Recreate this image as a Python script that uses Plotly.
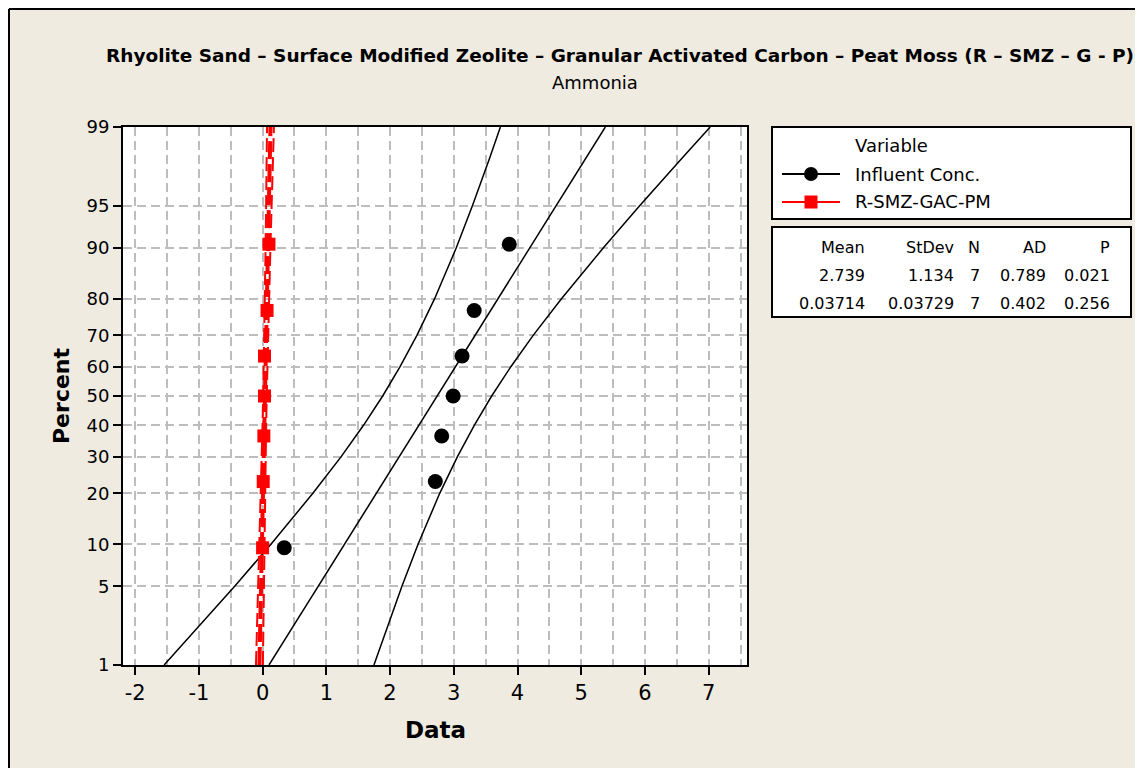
import plotly.graph_objects as go
from statistics import NormalDist

# probability plot (normal), n = 7 per variable
plot_pct = [9.46, 22.97, 36.49, 50.0, 63.51, 77.03, 90.54]
influent = [0.34, 2.71, 2.81, 2.99, 3.13, 3.32, 3.87]
rsmz = [0.00, 0.01, 0.02, 0.03, 0.03, 0.07, 0.10]

# fitted lines (ends at 1% and 99%)
fit_pct = [1, 99]
influent_fit = [0.101, 5.377]
rsmz_fit = [-0.0496, 0.1239]

# 95% confidence bands
ci_pct = [1, 2, 5, 10, 20, 30, 40, 50, 60, 70, 80, 90, 95, 98, 99]
influent_lo = [-1.545, -1.098, -0.438, 0.131, 0.789, 1.233, 1.583, 1.884,
               2.157, 2.421, 2.699, 3.039, 3.292, 3.560, 3.731]
influent_hi = [1.747, 1.918, 2.186, 2.439, 2.779, 3.057, 3.321, 3.594,
               3.895, 4.245, 4.689, 5.347, 5.916, 6.576, 7.023]
rsmz_lo = [-0.1037, -0.0890, -0.0673, -0.0486, -0.0270, -0.0124, -0.0008, 0.0090,
           0.0181, 0.0267, 0.0359, 0.0471, 0.0554, 0.0642, 0.0698]
rsmz_hi = [0.0045, 0.0100, 0.0189, 0.0272, 0.0384, 0.0476, 0.0562, 0.0652,
           0.0751, 0.0867, 0.1013, 0.1229, 0.1416, 0.1632, 0.1780]

pct_ticks = [1, 5, 10, 20, 30, 40, 50, 60, 70, 80, 90, 95, 99]
x_ticks = [-2, -1, 0, 1, 2, 3, 4, 5, 6, 7]

stats_cols = ["Mean", "StDev", "N", "AD", "P"]
stats_rows = [["2.739", "1.134", "7", "0.789", "0.021"],
              ["0.03714", "0.03729", "7", "0.402", "0.256"]]

nd = NormalDist()
def z(p):
    return [nd.inv_cdf(v / 100) for v in p]

# screen pixel -> paper helpers (plot area 123..747 x 127..665 on screen;
# page body adds an 8px offset, so the figure starts at (8, 8))
def px(x):
    return (x - 123) / 624
def py(y):
    return (665 - y) / 538

FONT = "DejaVu Sans"
grid = "#BDBDBD"
bg = "#EFEBE1"

fig = go.Figure()

# black: influent
for xs in (influent_lo, influent_hi):
    fig.add_trace(go.Scatter(x=xs, y=z(ci_pct), mode="lines", showlegend=False,
                             line=dict(color="black", width=1.5), hoverinfo="skip"))
fig.add_trace(go.Scatter(x=influent_fit, y=z(fit_pct), mode="lines", showlegend=False,
                         line=dict(color="black", width=1.5)))
fig.add_trace(go.Scatter(x=influent, y=z(plot_pct), mode="markers", showlegend=False,
                         marker=dict(color="black", size=15, symbol="circle")))

# red: R-SMZ-GAC-PM
for xs in (rsmz_lo, rsmz_hi):
    fig.add_trace(go.Scatter(x=xs, y=z(ci_pct), mode="lines", showlegend=False,
                             line=dict(color="red", width=2, dash="14px,5px"), hoverinfo="skip"))
fig.add_trace(go.Scatter(x=rsmz_fit, y=z(fit_pct), mode="lines", showlegend=False,
                         line=dict(color="red", width=4, dash="18px,5px")))
fig.add_trace(go.Scatter(x=rsmz, y=z(plot_pct), mode="markers", showlegend=False,
                         marker=dict(color="red", size=13, symbol="square")))

shapes = []
annotations = []

# outer border (top and left visible)
shapes.append(dict(type="line", xref="paper", yref="paper", x0=px(9), x1=px(1150),
                   y0=py(9), y1=py(9), line=dict(color="black", width=2)))
shapes.append(dict(type="line", xref="paper", yref="paper", x0=px(9), x1=px(9),
                   y0=py(9), y1=py(775), line=dict(color="black", width=2)))

# legend box
shapes.append(dict(type="rect", xref="paper", yref="paper", x0=px(772), x1=px(1131),
                   y0=py(219), y1=py(127), fillcolor="white", line=dict(color="black", width=2)))
annotations.append(dict(text="Variable", x=px(853), y=py(146), xref="paper", yref="paper",
                        xanchor="left", yanchor="middle", showarrow=False,
                        font=dict(family=FONT, size=18, color="black")))
legend_items = [("Influent Conc.", "black", "circle", 174), ("R-SMZ-GAC-PM", "red", "rect", 202)]
for name, col, sym, yy in legend_items:
    shapes.append(dict(type="line", xref="paper", yref="paper", x0=px(782), x1=px(840),
                       y0=py(yy), y1=py(yy), line=dict(color=col, width=2)))
    r = 7 if sym == "circle" else 6.5
    shapes.append(dict(type=sym, xref="paper", yref="paper", x0=px(811 - r), x1=px(811 + r),
                       y0=py(yy + r), y1=py(yy - r), fillcolor=col, line=dict(color=col, width=0)))
    annotations.append(dict(text=name, x=px(853), y=py(yy), xref="paper", yref="paper",
                            xanchor="left", yanchor="middle", showarrow=False,
                            font=dict(family=FONT, size=18, color="black")))

# stats box
shapes.append(dict(type="rect", xref="paper", yref="paper", x0=px(772), x1=px(1131),
                   y0=py(317), y1=py(227), fillcolor="white", line=dict(color="black", width=2)))
col_right = [867, 956, 982, 1048, 1112]
row_y = [247, 275, 303]
for row, yy in zip([stats_cols] + stats_rows, row_y):
    for txt, xr in zip(row, col_right):
        annotations.append(dict(text=txt, x=px(xr), y=py(yy), xref="paper", yref="paper",
                                xanchor="right", yanchor="middle", showarrow=False,
                                font=dict(family=FONT, size=16, color="black")))

# titles
annotations.append(dict(text="<b>Rhyolite Sand – Surface Modified Zeolite – Granular Activated Carbon – Peat Moss (R – SMZ – G - P)</b>",
                        x=px(620), y=py(55), xref="paper", yref="paper", showarrow=False,
                        xanchor="center", yanchor="middle",
                        font=dict(family=FONT, size=18.5, color="black")))
annotations.append(dict(text="Ammonia", x=px(595), y=py(83), xref="paper", yref="paper",
                        showarrow=False, xanchor="center", yanchor="middle",
                        font=dict(family=FONT, size=18, color="black")))
annotations.append(dict(text="<b>Data</b>", x=px(435), y=py(730), xref="paper", yref="paper",
                        showarrow=False, xanchor="center", yanchor="middle",
                        font=dict(family=FONT, size=23, color="black")))
annotations.append(dict(text="<b>Percent</b>", x=px(61), y=py(396), xref="paper", yref="paper",
                        showarrow=False, xanchor="center", yanchor="middle", textangle=-90,
                        font=dict(family=FONT, size=22, color="black")))

fig.update_layout(
    width=1135, height=760,
    margin=dict(l=115, r=396, t=119, b=103),
    paper_bgcolor=bg, plot_bgcolor="white",
    shapes=shapes, annotations=annotations,
    showlegend=False,
)
fig.update_xaxes(
    range=[-2.19, 7.6], tickmode="array", tickvals=x_ticks,
    ticktext=[str(v) for v in x_ticks],
    showline=True, linecolor="black", linewidth=2, mirror=True,
    ticks="outside", ticklen=8, tickwidth=2, tickcolor="black",
    tickfont=dict(family=FONT, size=21, color="black"),
    showgrid=True, gridcolor=grid, griddash="9px,5px", gridwidth=2,
    minor=dict(dtick=0.5, tick0=0, showgrid=True, gridcolor=grid, griddash="9px,5px", gridwidth=2),
    zeroline=False,
)
fig.update_yaxes(
    range=[nd.inv_cdf(0.01), nd.inv_cdf(0.99)],
    tickmode="array", tickvals=z(pct_ticks), ticktext=[str(p) for p in pct_ticks],
    showline=True, linecolor="black", linewidth=2, mirror=True,
    ticks="outside", ticklen=8, tickwidth=2, tickcolor="black",
    tickfont=dict(family=FONT, size=18, color="black"),
    showgrid=True, gridcolor=grid, griddash="9px,5px", gridwidth=2,
    zeroline=False,
)

fig.write_html("out.html")
